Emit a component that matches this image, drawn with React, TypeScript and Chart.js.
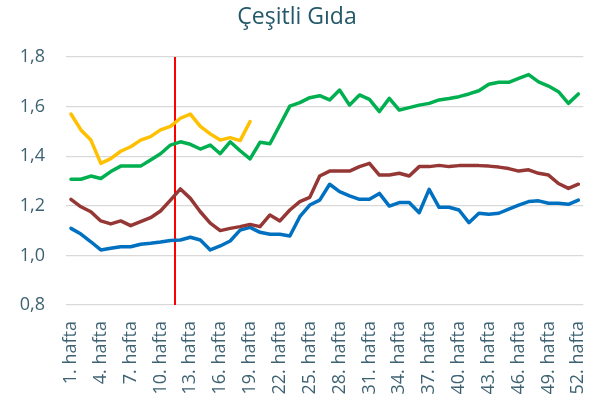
import React, { useEffect, useRef } from "react";
import { Chart, registerables } from "chart.js";

Chart.register(...registerables);

const TITLE = "Çeşitli Gıda";
const WEEKS: string[] = Array.from({ length: 52 }, (_, i) => `${i + 1}. hafta`);
const Y_TICKS = [0.8, 1.0, 1.2, 1.4, 1.6, 1.8];
const MARKER_WEEKS = [11, 12]; // vertical red line drawn between these weeks

const yellowSeries: (number | null)[] = [
  1.57, 1.506, 1.465, 1.371, 1.39, 1.42, 1.438, 1.465, 1.479, 1.506,
  1.52, 1.553, 1.57, 1.52, 1.49, 1.465, 1.475, 1.463, 1.54,
];

const greenSeries: number[] = [
  1.307, 1.307, 1.32, 1.31, 1.338, 1.36, 1.36, 1.36, 1.385, 1.41,
  1.445, 1.458, 1.448, 1.429, 1.445, 1.41, 1.458, 1.422, 1.389, 1.456,
  1.45, 1.526, 1.602, 1.616, 1.636, 1.644, 1.627, 1.667, 1.606, 1.647,
  1.629, 1.58, 1.633, 1.586, 1.596, 1.606, 1.613, 1.627, 1.633, 1.64,
  1.651, 1.664, 1.69, 1.698, 1.698, 1.714, 1.729, 1.7, 1.683, 1.66,
  1.613, 1.651,
];

const redSeries: number[] = [
  1.226, 1.196, 1.176, 1.139, 1.127, 1.139, 1.12, 1.136, 1.152, 1.179,
  1.223, 1.268, 1.23, 1.176, 1.13, 1.1, 1.109, 1.116, 1.125, 1.116,
  1.163, 1.139, 1.183, 1.217, 1.234, 1.32, 1.34, 1.34, 1.34, 1.358,
  1.371, 1.324, 1.324, 1.331, 1.32, 1.358, 1.358, 1.363, 1.358, 1.362,
  1.362, 1.362, 1.36, 1.356, 1.35, 1.34, 1.345, 1.331, 1.324, 1.29,
  1.27, 1.287,
];

const blueSeries: number[] = [
  1.109, 1.086, 1.055, 1.022, 1.029, 1.035, 1.035, 1.045, 1.049, 1.054,
  1.06, 1.062, 1.073, 1.062, 1.022, 1.038, 1.058, 1.102, 1.113, 1.093,
  1.085, 1.085, 1.078, 1.156, 1.203, 1.223, 1.287, 1.257, 1.24, 1.226,
  1.226, 1.25, 1.199, 1.213, 1.213, 1.172, 1.266, 1.194, 1.194, 1.183,
  1.132, 1.17, 1.166, 1.17, 1.187, 1.203, 1.217, 1.22, 1.21, 1.21,
  1.206, 1.223,
];

const FONT = "'Open Sans', 'DejaVu Sans', sans-serif";

export default function App() {
  const ref = useRef<HTMLCanvasElement | null>(null);

  useEffect(() => {
    document.body.style.margin = "0";
    const canvas = ref.current;
    if (!canvas) return;

    const titlePlugin = {
      id: "customTitle",
      afterDraw(chart: any) {
        const ctx = chart.ctx;
        ctx.save();
        ctx.font = `23px ${FONT}`;
        ctx.fillStyle = "#235868";
        ctx.textAlign = "center";
        ctx.textBaseline = "middle";
        ctx.fillText(TITLE, 297, 17);
        ctx.restore();
      },
    };

    const markerPlugin = {
      id: "markerLine",
      beforeDatasetsDraw(chart: any) {
        const x = chart.scales.x;
        const y = chart.scales.y;
        const px =
          (x.getPixelForValue(MARKER_WEEKS[0] - 1) + x.getPixelForValue(MARKER_WEEKS[1] - 1)) / 2;
        const cx = Math.round(px);
        const ctx = chart.ctx;
        ctx.save();
        ctx.strokeStyle = "rgb(255, 0, 0)";
        ctx.lineWidth = 2;
        ctx.beginPath();
        ctx.moveTo(cx, y.getPixelForValue(Y_TICKS[Y_TICKS.length - 1]));
        ctx.lineTo(cx, y.getPixelForValue(Y_TICKS[0]));
        ctx.stroke();
        ctx.restore();
      },
    };

    const common = {
      borderWidth: 3.5,
      pointRadius: 0,
      pointHoverRadius: 0,
      tension: 0,
      fill: false,
      borderJoinStyle: "round" as const,
      borderCapStyle: "round" as const,
      spanGaps: false,
    };

    const chart = new Chart(canvas, {
      type: "line",
      data: {
        labels: WEEKS,
        datasets: [
          { ...common, label: "Sarı", data: yellowSeries, borderColor: "#FFC000", backgroundColor: "#FFC000" },
          { ...common, label: "Yeşil", data: greenSeries, borderColor: "#00B050", backgroundColor: "#00B050" },
          { ...common, label: "Kırmızı", data: redSeries, borderColor: "#953735", backgroundColor: "#953735" },
          { ...common, label: "Mavi", data: blueSeries, borderColor: "#0070C0", backgroundColor: "#0070C0" },
        ],
      },
      options: {
        animation: false,
        responsive: false,
        maintainAspectRatio: false,
        layout: { padding: { top: 57, right: 4, left: 0, bottom: 0 } },
        plugins: {
          legend: { display: false },
          title: { display: false },
          tooltip: { enabled: false },
        },
        scales: {
          x: {
            type: "category",
            offset: true,
            grid: { display: false, drawTicks: false },
            border: { display: false },
            ticks: {
              autoSkip: false,
              minRotation: 90,
              maxRotation: 90,
              padding: 16,
              color: "#3E6272",
              font: { family: FONT, size: 18 },
              callback: function (this: any, _v: any, i: number) {
                return i % 3 === 0 ? WEEKS[i] : "";
              },
            },
            afterFit(scale: any) {
              scale.height = 102;
            },
          },
          y: {
            min: Y_TICKS[0],
            max: Y_TICKS[Y_TICKS.length - 1],
            afterBuildTicks(scale: any) {
              scale.ticks = Y_TICKS.map((v) => ({ value: v }));
            },
            grid: { color: "#D9D9D9", lineWidth: 1.2, drawTicks: false },
            border: { display: false },
            ticks: {
              padding: 21,
              color: "#3E6272",
              font: { family: FONT, size: 18 },
              callback: (v: any) => Number(v).toFixed(1).replace(".", ","),
            },
            afterFit(scale: any) {
              scale.width = 66;
            },
          },
        },
      },
      plugins: [markerPlugin, titlePlugin],
    });

    return () => chart.destroy();
  }, []);

  return <canvas ref={ref} width={616} height={407} style={{ display: "block" }} />;
}
